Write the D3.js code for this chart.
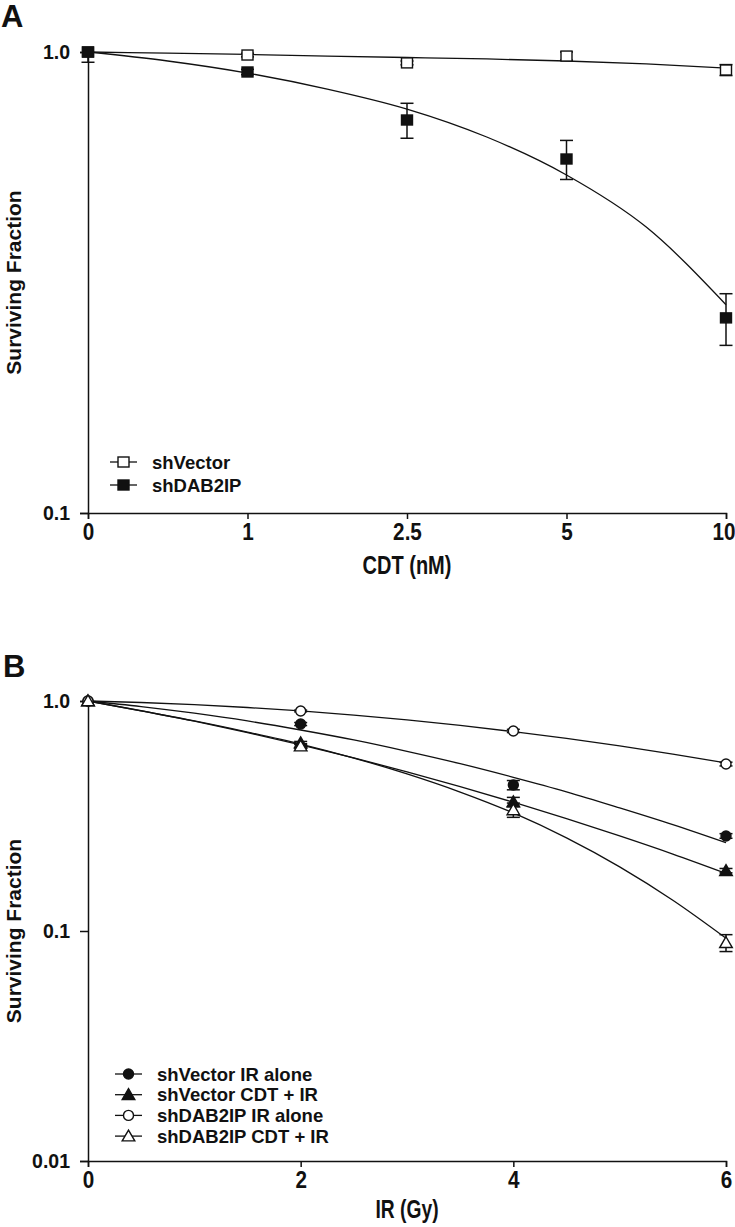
<!DOCTYPE html>
<html>
<head>
<meta charset="utf-8">
<script src="https://cdn.jsdelivr.net/npm/d3@7"></script>
<style>
  html, body { margin: 0; padding: 0; background: #fff; }
  svg text { font-family: "Liberation Sans", Arial, sans-serif; font-weight: bold; fill: #111; }
</style>
</head>
<body>
<svg id="chart" width="735" height="1227"></svg>
<script>
// ---------------- Panel A data ----------------
const catA = ["0", "1", "2.5", "5", "10"];
const shVectorA = [1.0, 0.985, 0.947, 0.980, 0.914];
const shVectorAErr = [0, 0.009, 0.009, 0.02, 0.025];
const shDAB2IPA = [1.0, 0.905, 0.712, 0.586, 0.265];
const shDAB2IPAErr = [0.05, 0.012, 0.062, 0.057, 0.034];
// fitted curves read at category-index positions
const fitIdxA = [0, 0.5, 1, 1.5, 2, 2.5, 3, 3.5, 4];
const fitShVectorA = [1.0, 0.994, 0.988, 0.980, 0.973, 0.966, 0.956, 0.942, 0.923];
const fitShDAB2IPA = [1.0, 0.956, 0.900, 0.831, 0.752, 0.654, 0.541, 0.417, 0.283];
const yTicksA = [0.1, 1.0];
const legendA = ["shVector", "shDAB2IP"];

// ---------------- Panel B data ----------------
const doseB = [0, 2, 4, 6];
const shVecIR = [1.0, 0.794, 0.431, 0.259];
const shVecIRErr = [0, 0.012, 0.02, 0.006];
const shVecCDTIR = [1.0, 0.657, 0.364, 0.183];
const shVecCDTIRErr = [0, 0.01, 0.017, 0.004];
const shDABIR = [1.0, 0.905, 0.741, 0.532];
const shDABIRErr = [0, 0.008, 0.012, 0.01];
const shDABCDTIR = [1.0, 0.637, 0.336, 0.0889];
const shDABCDTIRErr = [0, 0.015, 0.024, 0.0075];
const fitDoseB = [0, 0.5, 1, 1.5, 2, 2.5, 3, 3.5, 4, 4.5, 5, 5.5, 6];
const fitShVecIR = [1.0, 0.946, 0.885, 0.819, 0.748, 0.677, 0.604, 0.534, 0.466, 0.403, 0.343, 0.290, 0.242];
const fitShVecCDTIR = [1.0, 0.907, 0.817, 0.729, 0.645, 0.566, 0.492, 0.424, 0.363, 0.308, 0.259, 0.216, 0.178];
const fitShDABIR = [1.0, 0.985, 0.964, 0.937, 0.905, 0.868, 0.827, 0.783, 0.736, 0.688, 0.638, 0.588, 0.538];
const fitShDABCDTIR = [1.0, 0.905, 0.819, 0.733, 0.650, 0.565, 0.482, 0.402, 0.326, 0.254, 0.190, 0.136, 0.093];
const xTicksB = [0, 2, 4, 6];
const yTicksB = [0.01, 0.1, 1.0];
const legendB = ["shVector IR alone", "shVector CDT + IR", "shDAB2IP IR alone", "shDAB2IP CDT + IR"];

const svg = d3.select("#chart");
const INK = "#111";

// narrow (condensed) look for x-axis texts
function condense(sel, f) {
  sel.each(function () {
    const w = this.getComputedTextLength();
    d3.select(this).attr("textLength", w * f).attr("lengthAdjust", "spacingAndGlyphs");
  });
}

function drawMarker(g, type, x, y) {
  if (type === "sqOpen" || type === "sqFill") {
    g.append("rect").attr("x", x - 5.5).attr("y", y - 5).attr("width", 11).attr("height", 10)
      .attr("fill", type === "sqFill" ? INK : "#fff").attr("stroke", INK).attr("stroke-width", 1.4);
  } else if (type === "cFill" || type === "cOpen") {
    g.append("circle").attr("cx", x).attr("cy", y).attr("r", 5)
      .attr("fill", type === "cFill" ? INK : "#fff").attr("stroke", INK).attr("stroke-width", 1.4);
  } else {
    const s = 6;
    g.append("path").attr("d", `M${x},${y - s} L${x + s * 1.05},${y + s * 0.8} L${x - s * 1.05},${y + s * 0.8} Z`)
      .attr("fill", type === "tFill" ? INK : "#fff").attr("stroke", INK).attr("stroke-width", 1.4);
  }
}

function errorBars(g, xs, vals, errs, y, onlyDown) {
  vals.forEach((v, i) => {
    const e = errs[i];
    if (!e) return;
    const x = xs(i);
    const down = onlyDown && onlyDown[i];
    const yLo = y(v - e), yHi = down ? y(v) : y(v + e);
    g.append("line").attr("x1", x).attr("x2", x).attr("y1", yHi).attr("y2", yLo)
      .attr("stroke", INK).attr("stroke-width", 1.5);
    [yLo].concat(down ? [] : [yHi]).forEach(yy => {
      g.append("line").attr("x1", x - 6.5).attr("x2", x + 6.5).attr("y1", yy).attr("y2", yy)
        .attr("stroke", INK).attr("stroke-width", 1.5);
    });
  });
}

function styleAxis(g) {
  g.select(".domain").attr("stroke", INK).attr("stroke-width", 1.5);
  g.selectAll(".tick line").attr("stroke", INK).attr("stroke-width", 1.5);
  g.selectAll(".tick text").attr("fill", INK);
}

// ================= Panel A =================
(function () {
  const L = 88, R = 726, T = 52, B = 513;
  const x = d3.scalePoint().domain(catA).range([L, R]);
  const xi = d3.scaleLinear().domain([0, catA.length - 1]).range([L, R]);
  const y = d3.scaleLog().domain([0.1, 1.0]).range([B, T]);
  const g = svg.append("g");

  g.append("text").attr("x", 1).attr("y", 27).attr("font-size", 31).text("A");

  const xa = g.append("g").attr("transform", `translate(0,${B})`)
    .call(d3.axisBottom(x).tickSizeOuter(0).tickSize(6).tickPadding(4));
  styleAxis(xa);
  xa.selectAll(".tick text").attr("font-size", 23.5);
  condense(xa.selectAll(".tick text"), 0.88);
  // keep the last label inside the page edge
  xa.selectAll(".tick text").filter(d => d === catA[catA.length - 1]).attr("dx", -2.5);

  const ya = g.append("g").attr("transform", `translate(${L},0)`)
    .call(d3.axisLeft(y).tickValues(yTicksA).tickFormat(d3.format(".1f")).tickSizeOuter(0).tickSize(8).tickPadding(10));
  styleAxis(ya);
  ya.selectAll(".tick text").attr("font-size", 19.5);

  const xt = g.append("text").attr("x", (L + R) / 2).attr("y", 574)
    .attr("text-anchor", "middle").attr("font-size", 26).text("CDT (nM)");
  condense(xt, 0.77);
  g.append("text").attr("transform", `translate(21,${(T + B) / 2}) rotate(-90)`)
    .attr("text-anchor", "middle").attr("font-size", 21).text("Surviving Fraction");

  const line = d3.line().x(d => xi(d[0])).y(d => y(d[1])).curve(d3.curveMonotoneX);
  [fitShVectorA, fitShDAB2IPA].forEach(arr => {
    g.append("path").attr("d", line(fitIdxA.map((t, i) => [t, arr[i]])))
      .attr("fill", "none").attr("stroke", INK).attr("stroke-width", 1.3);
  });

  const xs = i => x(catA[i]);
  errorBars(g, xs, shVectorA, shVectorAErr, y);
  errorBars(g, xs, shDAB2IPA, shDAB2IPAErr, y, [true, false, false, false, false]);
  shVectorA.forEach((v, i) => drawMarker(g, "sqOpen", xs(i), y(v)));
  shDAB2IPA.forEach((v, i) => drawMarker(g, "sqFill", xs(i), y(v)));

  // legend
  const types = ["sqOpen", "sqFill"];
  legendA.forEach((name, i) => {
    const yy = 462 + i * 23;
    g.append("line").attr("x1", 110).attr("x2", 137).attr("y1", yy).attr("y2", yy).attr("stroke", INK).attr("stroke-width", 1.3);
    drawMarker(g, types[i], 123.5, yy);
    g.append("text").attr("x", 152).attr("y", yy + 6.5).attr("font-size", 18.5).text(name);
  });
})();

// ================= Panel B =================
(function () {
  const L = 88, R = 726, T = 701, B = 1161;
  const x = d3.scaleLinear().domain([0, 6]).range([L, R]);
  const y = d3.scaleLog().domain([0.01, 1.0]).range([B, T]);
  const g = svg.append("g");

  g.append("text").attr("x", 3).attr("y", 677).attr("font-size", 31).text("B");

  const xa = g.append("g").attr("transform", `translate(0,${B})`)
    .call(d3.axisBottom(x).tickValues(xTicksB).tickFormat(d3.format("d")).tickSizeOuter(0).tickSize(6).tickPadding(4));
  styleAxis(xa);
  xa.selectAll(".tick text").attr("font-size", 23.5);
  condense(xa.selectAll(".tick text"), 0.88);

  const ya = g.append("g").attr("transform", `translate(${L},0)`)
    .call(d3.axisLeft(y).tickValues(yTicksB).tickFormat(d => d === 1 ? "1.0" : String(d)).tickSizeOuter(0).tickSize(8).tickPadding(10));
  styleAxis(ya);
  ya.selectAll(".tick text").attr("font-size", 19.5);

  const xt = g.append("text").attr("x", (L + R) / 2).attr("y", 1218)
    .attr("text-anchor", "middle").attr("font-size", 25).text("IR (Gy)");
  condense(xt, 0.77);
  g.append("text").attr("transform", `translate(21,${(T + B) / 2}) rotate(-90)`)
    .attr("text-anchor", "middle").attr("font-size", 21).text("Surviving Fraction");

  const line = d3.line().x(d => x(d[0])).y(d => y(d[1])).curve(d3.curveMonotoneX);
  [fitShVecIR, fitShVecCDTIR, fitShDABIR, fitShDABCDTIR].forEach(arr => {
    g.append("path").attr("d", line(fitDoseB.map((t, i) => [t, arr[i]])))
      .attr("fill", "none").attr("stroke", INK).attr("stroke-width", 1.3);
  });

  const xs = i => x(doseB[i]);
  const series = [
    [shVecIR, shVecIRErr, "cFill"],
    [shVecCDTIR, shVecCDTIRErr, "tFill"],
    [shDABIR, shDABIRErr, "cOpen"],
    [shDABCDTIR, shDABCDTIRErr, "tOpen"]
  ];
  series.forEach(([vals, errs]) => errorBars(g, xs, vals, errs, y));
  series.forEach(([vals, errs, type]) => vals.forEach((v, i) => drawMarker(g, type, xs(i), y(v))));

  legendB.forEach((name, i) => {
    const yy = 1074 + i * 20.7;
    g.append("line").attr("x1", 115).attr("x2", 142).attr("y1", yy).attr("y2", yy).attr("stroke", INK).attr("stroke-width", 1.3);
    drawMarker(g, series[i][2], 128.5, yy);
    g.append("text").attr("x", 157).attr("y", yy + 6.5).attr("font-size", 18.5).text(name);
  });
})();
</script>
</body>
</html>
